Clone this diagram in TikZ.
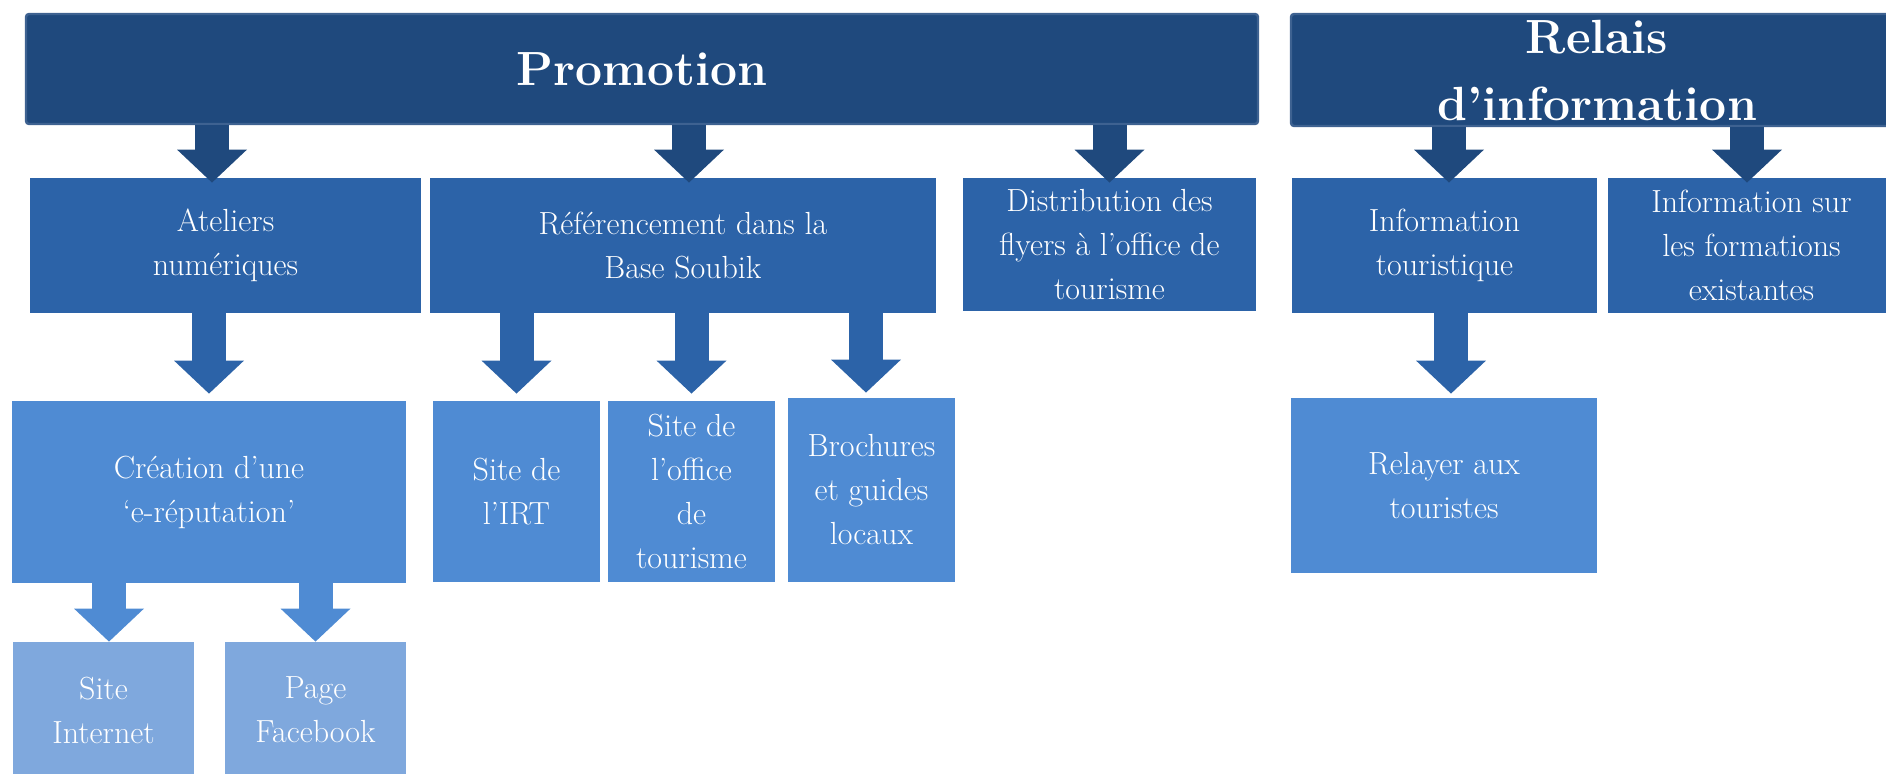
\documentclass[tikz,border=0pt]{standalone}
\usetikzlibrary{arrows.meta,calc}
\definecolor{headblue}{HTML}{1F497D}
\definecolor{headrim}{HTML}{3E6291}
\definecolor{tiertwo}{HTML}{2C63A8}
\definecolor{tierthree}{HTML}{4F8BD3}
\definecolor{tierfour}{HTML}{7FA8DD}
\tikzset{
    chart/.style      = {x=0.5pt, y=-0.5pt},
    box/.style        = {rectangle, inner sep=0pt, align=center, text=white,
                         font={\fontsize{16}{22}\selectfont}},
    boxsize/.style 2 args = {minimum width=#1, minimum height=#2},
    head/.style       = {box, fill=headblue, draw=headrim, line width=1.2pt,
                         rounded corners=1.5pt,
                         font={\fontsize{24}{33.5}\selectfont\bfseries}},
    tier two/.style   = {box, fill=tiertwo},
    tier three/.style = {box, fill=tierthree},
    tier four/.style  = {box, fill=tierfour},
    push/.style       = {line width=17pt,
                         -{Triangle[width=35pt, length=16.5pt, line width=0pt]}}
}

\begin{document}
\begin{tikzpicture}[chart]
\useasboundingbox (0,0) rectangle (1886,774);
\clip (0,0) rectangle (1886,774);

% Header bars
\node[head, boxsize={616pt}{55pt}] (promo) at (642,69) {Promotion};
\node[head, boxsize={306pt}{56pt}] (relais) at (1597,70) {Relais\\d’information};

% Second tier
\node[tier two, boxsize={195.5pt}{67.5pt}] (ateliers) at (225.5,245.5)
    {Ateliers\\numériques};
\node[tier two, boxsize={253pt}{67.5pt}] (referencement) at (683,245.5)
    {Référencement dans la\\Base Soubik};
\node[tier two, boxsize={146.5pt}{66.5pt}] (distribution) at (1109.5,244.5)
    {Distribution des\\flyers à l’office de\\tourisme};
\node[tier two, boxsize={152.5pt}{67.5pt}] (infotour) at (1444.5,245.5)
    {Information\\touristique};
\node[tier two, boxsize={143.5pt}{67.5pt}] (infoform) at (1751.5,245.5)
    {Information sur\\les formations\\existantes};

% Third tier
\node[tier three, boxsize={197pt}{91pt}] (creation) at (209,492)
    {Création d’une\\‘e-réputation’};
\node[tier three, boxsize={83.5pt}{90.5pt}] (siteirt) at (516.5,491.5)
    {Site de\\l’IRT};
\node[tier three, boxsize={83.5pt}{90.5pt}] (siteoffice) at (691.5,491.5)
    {Site de\\l’office\\de\\tourisme};
\node[tier three, boxsize={83.5pt}{92pt}] (brochures) at (871.5,490)
    {Brochures\\et guides\\locaux};
\node[tier three, boxsize={153pt}{87.5pt}] (relayer) at (1444,485.5)
    {Relayer aux\\touristes};

% Fourth tier
\node[tier four, boxsize={90.5pt}{68pt}] (siteweb) at (103.5,710)
    {Site\\Internet};
\node[tier four, boxsize={90.5pt}{68pt}] (facebook) at (315.5,710)
    {Page\\Facebook};

% Block arrows from the header bars (tips reach into the boxes)
\draw[push, headblue] ($(promo.south -| ateliers.north)+(-13.5,0)$)
    -- ($(ateliers.north)+(-13.5,5)$);
\draw[push, headblue] ($(promo.south -| referencement.north)+(6,0)$)
    -- ($(referencement.north)+(6,5)$);
\draw[push, headblue] (promo.south -| distribution.north)
    -- ($(distribution.north)+(0,5)$);
\draw[push, headblue] ($(relais.south -| infotour.north)+(4.5,0)$)
    -- ($(infotour.north)+(4.5,5)$);
\draw[push, headblue] ($(relais.south -| infoform.north)+(-4.5,0)$)
    -- ($(infoform.north)+(-4.5,5)$);

% Block arrows from the second tier (tips stop short)
\draw[push, tiertwo] (ateliers.south -| creation.north)
    -- ($(creation.north)+(0,-7)$);
\draw[push, tiertwo] (referencement.south -| siteirt.north)
    -- ($(siteirt.north)+(0,-7)$);
\draw[push, tiertwo] (referencement.south -| siteoffice.north)
    -- ($(siteoffice.north)+(0,-7)$);
\draw[push, tiertwo] ($(referencement.south -| brochures.north)+(-5.5,0)$)
    -- ($(brochures.north)+(-5.5,-5)$);
\draw[push, tiertwo] ($(infotour.south -| relayer.north)+(7,0)$)
    -- ($(relayer.north)+(7,-4)$);

% Block arrows from the third tier
\draw[push, tierthree] ($(creation.south -| siteweb.north)+(5.5,0)$)
    -- ($(siteweb.north)+(5.5,0)$);
\draw[push, tierthree] (creation.south -| facebook.north) -- (facebook.north);

\end{tikzpicture}
\end{document}
